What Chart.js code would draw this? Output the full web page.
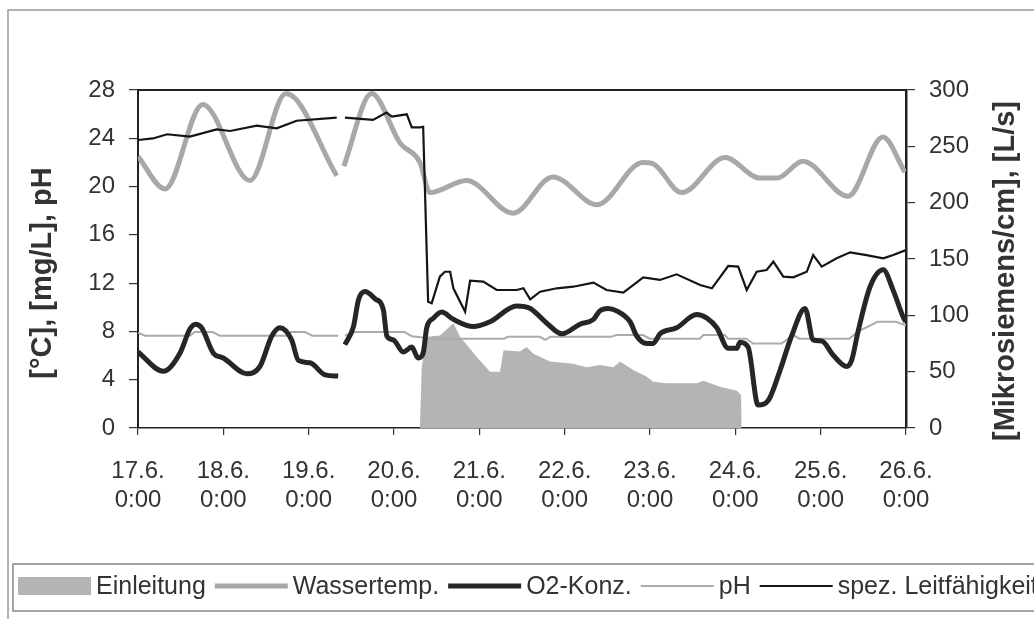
<!DOCTYPE html>
<html>
<head>
<meta charset="utf-8">
<script src="https://cdn.jsdelivr.net/npm/chart.js@4/dist/chart.umd.min.js"></script>
<style>
  body { margin: 0; background: #fff; }
  #chart { display: block; }
</style>
</head>
<body>
<canvas id="chart" width="1034" height="619"></canvas>
<script>
// Achsenbeschriftung (Stunden ab 17.6. 0:00)
const dayLabels = ['17.6.', '18.6.', '19.6.', '20.6.', '21.6.', '22.6.', '23.6.', '24.6.', '25.6.', '26.6.'];
const timeLabel = '0:00';

// Einleitung [L/s] (rechte Achse)
const einleitungHours = [79.3, 79.8, 81.2, 84.9, 88.7, 90.6, 95.3, 99.0, 101.8, 102.8, 107.4, 109.3, 111.2, 115.9, 122.4, 126.2, 129.9, 133.7, 135.6, 139.3, 143.1, 144.9, 148.7, 157.1, 159.0, 163.7, 168.4, 169.6, 169.8];
const einleitungValues = [0, 54, 81, 82, 93, 81, 63, 50, 50, 69, 68, 72, 66, 59, 57, 54, 56, 54, 59, 51.5, 45.5, 41, 39.7, 39.7, 42, 36.7, 33, 29.3, 0];

// Wassertemperatur [°C]
const tempHours = [0, 7.6, 18.2, 31.5, 41.6, 55.9, 57, 57.9, 65.7, 73.7, 79.3, 82.1, 92.4, 105.5, 116.7, 129.1, 142.0, 144.8, 152.9, 165.1, 174.9, 179.7, 187.0, 199.7, 209.5, 215.7];
const tempValues = [22.5, 19.8, 26.8, 20.5, 27.7, 20.9, null, 21.7, 27.7, 23.6, 22.0, 19.5, 20.5, 17.8, 20.8, 18.5, 22.0, 21.9, 19.5, 22.4, 20.7, 20.7, 22.1, 19.2, 24.1, 21.2];

// O2-Konzentration [mg/L]
const o2Hours = [0, 7.1, 11.8, 14.6, 16.2, 17.9, 21.2, 24.0, 30.6, 34.3, 37.6, 39.9, 43.2, 45.1, 48.4, 52.6, 56.3, 57, 58.2, 60.6, 62.0, 63.8, 66.7, 69.0, 70.0, 71.8, 74.6, 77.0, 78.8, 80.2, 81.2, 83.1, 85.4, 88.7, 94.3, 99.0, 106.5, 110.3, 114.9, 119.2, 124.3, 128.1, 129.9, 132.2, 134.6, 138.4, 140.3, 143.1, 144.9, 146.8, 151.5, 157.1, 160.0, 162.8, 166.0, 168.4, 169.3, 171.6, 174.4, 177.3, 180.6, 183.8, 187.6, 189.9, 192.3, 195.6, 199.3, 200.7, 202.6, 205.9, 209.6, 212.4, 215.2, 216];
const o2Values = [6.3, 4.7, 6.2, 8.2, 8.6, 8.3, 6.2, 5.8, 4.5, 5.1, 7.6, 8.3, 7.3, 5.6, 5.4, 4.4, 4.3, null, 6.9, 8.4, 10.6, 11.3, 10.7, 9.8, 7.6, 7.3, 6.3, 6.7, 5.8, 6.2, 8.3, 9.1, 9.6, 9.0, 8.4, 8.8, 10.1, 9.9, 8.7, 7.8, 8.6, 9.0, 9.7, 9.9, 9.7, 8.8, 7.6, 7.0, 7.0, 7.8, 8.3, 9.4, 9.1, 8.3, 6.6, 6.6, 7.1, 6.7, 1.9, 2.3, 4.8, 7.6, 9.9, 7.3, 7.2, 6.0, 5.1, 5.6, 8.1, 11.7, 13.1, 11.4, 9.2, 8.8];

// pH
const phHours = [0, 2, 14.6, 16, 21, 23, 42, 43, 47, 49, 56.3, 57, 58.2, 60.6, 75, 77, 80, 82, 103, 104, 113, 114.5, 116, 133, 134.5, 142, 144, 158, 159, 165, 166, 171, 173, 181, 184.3, 186, 200, 202.6, 208, 213, 216];
const phValues = [7.9, 7.65, 7.65, 7.95, 7.95, 7.65, 7.65, 7.95, 7.95, 7.65, 7.65, null, 7.65, 7.95, 7.95, 7.6, 7.5, 7.4, 7.4, 7.55, 7.55, 7.3, 7.55, 7.55, 7.7, 7.7, 7.4, 7.4, 7.7, 7.7, 7.4, 7.4, 7.0, 7.0, 7.7, 7.4, 7.4, 8.0, 8.8, 8.8, 8.5];

// spez. Leitfähigkeit [Mikrosiemens/cm] (rechte Achse)
const leitHours = [0, 4.2, 8.2, 14.6, 22.1, 25.9, 33.4, 39.0, 44.6, 55.9, 57, 58.2, 66.1, 69.9, 71.4, 75.6, 77.0, 79.3, 80.2, 81.6, 82.6, 84.9, 86.3, 87.8, 88.7, 92.0, 93.4, 97.1, 100.9, 106.5, 108.4, 110.3, 113.1, 117.8, 122.4, 128.1, 131.8, 136.5, 142.1, 146.8, 151.5, 158.1, 161.4, 166.0, 168.8, 171.2, 174.0, 176.8, 178.7, 181.5, 184.3, 188.1, 189.9, 192.3, 196.5, 200.3, 204.9, 209.6, 212.4, 216];
const leitValues = [255.6, 257, 260.7, 258.6, 265, 263.6, 268.3, 266, 272.7, 275.4, null, 275.4, 273.4, 279.9, 276.3, 278.4, 266.9, 266.9, 267.4, 112, 110.7, 134.3, 138.7, 138.7, 124, 103.2, 130.7, 129.9, 122.5, 122.5, 124, 114.2, 121, 124, 125.4, 129, 122.5, 120.1, 133.7, 131.4, 136.4, 126.9, 124, 143.8, 143.2, 122.5, 138.7, 140.2, 147.6, 134.3, 133.7, 138.7, 153.5, 143.2, 150.6, 155.9, 153.5, 150.6, 153.5, 158];

const FONT = "'Liberation Sans', Arial, sans-serif";
const TEXT_COLOR = '#333';

function toPoints(hours, values) {
    return hours.map((h, i) => ({ x: h, y: values[i] }));
}

// Rahmen, Achsentitel und Legende selber zeichnen (Legende läuft rechts aus dem Bild)
const framePlugin = {
    id: 'frame',
    afterDraw(chart) {
        const ctx = chart.ctx;
        const area = chart.chartArea;
        ctx.save();

        // äusserer Rahmen
        ctx.strokeStyle = '#999';
        ctx.lineWidth = 1.5;
        ctx.beginPath();
        ctx.moveTo(8, 619);
        ctx.lineTo(8, 10);
        ctx.lineTo(1034, 10);
        ctx.stroke();

        // obere Linie vom Plotbereich
        ctx.strokeStyle = '#222';
        ctx.lineWidth = 2;
        ctx.beginPath();
        ctx.moveTo(area.left, area.top);
        ctx.lineTo(area.right, area.top);
        ctx.stroke();

        // Achsentitel
        ctx.fillStyle = TEXT_COLOR;
        ctx.font = 'bold 29px ' + FONT;
        ctx.textAlign = 'center';
        ctx.textBaseline = 'middle';
        ctx.save();
        ctx.translate(43, 273);
        ctx.rotate(-Math.PI / 2);
        ctx.fillText('[°C], [mg/L], pH', 0, 0);
        ctx.restore();
        ctx.save();
        ctx.translate(1006, 271);
        ctx.rotate(-Math.PI / 2);
        ctx.fillText('[Mikrosiemens/cm], [L/s]', 0, 0);
        ctx.restore();

        // Legendenkasten
        ctx.strokeStyle = '#888';
        ctx.lineWidth = 1.5;
        ctx.strokeRect(13, 564, 1040, 47);

        ctx.font = '25px ' + FONT;
        ctx.textAlign = 'left';
        ctx.textBaseline = 'middle';
        const yMid = 586;
        let x = 18;
        chart.data.datasets.forEach(ds => {
            if (ds.fill) {
                ctx.fillStyle = ds.backgroundColor;
                ctx.fillRect(x, yMid - 9, 73, 18);
            } else {
                ctx.strokeStyle = ds.borderColor;
                ctx.lineWidth = ds.borderWidth;
                ctx.beginPath();
                ctx.moveTo(x, yMid);
                ctx.lineTo(x + 73, yMid);
                ctx.stroke();
            }
            x += 73 + 5;
            ctx.fillStyle = TEXT_COLOR;
            ctx.fillText(ds.label, x, yMid + 1);
            x += ctx.measureText(ds.label).width + 9;
        });
        ctx.restore();
    }
};

const ctx = document.getElementById('chart').getContext('2d');
new Chart(ctx, {
    type: 'line',
    data: {
        datasets: [{
            label: 'Einleitung',
            data: toPoints(einleitungHours, einleitungValues),
            yAxisID: 'y1',
            fill: 'origin',
            backgroundColor: '#b4b4b4',
            borderWidth: 0,
            pointRadius: 0,
            order: 5
        }, {
            label: 'Wassertemp.',
            data: toPoints(tempHours, tempValues),
            yAxisID: 'y',
            borderColor: '#a8a8a8',
            borderWidth: 5,
            pointRadius: 0,
            cubicInterpolationMode: 'monotone',
            fill: false,
            order: 4
        }, {
            label: 'O2-Konz.',
            data: toPoints(o2Hours, o2Values),
            yAxisID: 'y',
            borderColor: '#262626',
            borderWidth: 5,
            pointRadius: 0,
            cubicInterpolationMode: 'monotone',
            fill: false,
            order: 2
        }, {
            label: 'pH',
            data: toPoints(phHours, phValues),
            yAxisID: 'y',
            borderColor: '#ababab',
            borderWidth: 2,
            pointRadius: 0,
            fill: false,
            order: 3
        }, {
            label: 'spez. Leitfähigkeit',
            data: toPoints(leitHours, leitValues),
            yAxisID: 'y1',
            borderColor: '#151515',
            borderWidth: 2.2,
            pointRadius: 0,
            fill: false,
            order: 1
        }]
    },
    options: {
        responsive: false,
        animation: false,
        layout: { padding: { top: 90, left: 0, right: 0, bottom: 0 } },
        plugins: {
            legend: { display: false },
            tooltip: { enabled: false }
        },
        scales: {
            x: {
                type: 'linear',
                min: 0,
                max: 216,
                afterFit: scale => { scale.height = 191; },
                border: { display: true, color: '#222', width: 1.5 },
                grid: { drawOnChartArea: false, drawTicks: true, tickLength: 7, color: '#333', lineWidth: 1.2 },
                ticks: {
                    stepSize: 24,
                    autoSkip: false,
                    maxRotation: 0,
                    padding: 22,
                    color: TEXT_COLOR,
                    font: { family: FONT, size: 24 },
                    callback: (value, index) => [dayLabels[index], timeLabel]
                }
            },
            y: {
                position: 'left',
                min: 0,
                max: 28,
                afterFit: scale => { scale.width = 138; },
                border: { display: true, color: '#222', width: 2 },
                grid: { drawOnChartArea: false, drawTicks: true, tickLength: 9, color: '#333', lineWidth: 1.2 },
                ticks: {
                    stepSize: 4,
                    padding: 14,
                    color: TEXT_COLOR,
                    font: { family: FONT, size: 24 }
                }
            },
            y1: {
                position: 'right',
                min: 0,
                max: 300,
                afterFit: scale => { scale.width = 128; },
                border: { display: true, color: '#222', width: 2.5 },
                grid: { drawOnChartArea: false, drawTicks: true, tickLength: 9, color: '#333', lineWidth: 1.2 },
                ticks: {
                    stepSize: 50,
                    padding: 14,
                    color: TEXT_COLOR,
                    font: { family: FONT, size: 24 }
                }
            }
        }
    },
    plugins: [framePlugin]
});
</script>
</body>
</html>
